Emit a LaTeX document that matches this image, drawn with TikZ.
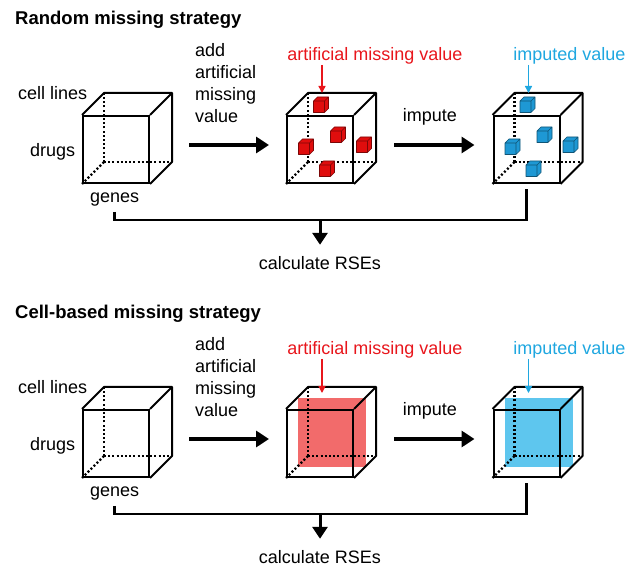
\documentclass[tikz,border=0pt]{standalone}
\usepackage{fontspec}
\setmainfont{Liberation Sans}
\usetikzlibrary{arrows.meta,calc,backgrounds}
\definecolor{misred}{HTML}{E8161C}
\definecolor{impblue}{HTML}{1FA7E0}
\definecolor{cubered}{HTML}{E00D0D}
\definecolor{cubeblue}{HTML}{1E98D4}
\definecolor{slicered}{HTML}{F26B6B}
\definecolor{sliceblue}{HTML}{5EC6EE}
\tikzset{
  lbl/.style={font=\fontsize{18}{22}\selectfont, inner sep=0pt, anchor=base west},
  ttl/.style={font=\fontsize{18.5}{22}\selectfont\bfseries, inner sep=0pt, anchor=base west},
  face/.style={draw=black, line width=2pt, minimum width=66pt, minimum height=67pt, inner sep=0pt},
  edge/.style={line width=2pt, line join=round},
  hid/.style={line width=2.3pt, dash pattern=on 2pt off 2.2pt},
  bigarr/.style={-{Triangle[length=13pt,width=16pt]}, line width=4.5pt},
  link/.style={line width=2.5pt},
  downarr/.style={-{Triangle[length=12pt,width=15pt]}, line width=3pt},
  tagarr/.style={-{Triangle[length=7pt,width=7pt]}, line width=1.4pt},
  pics/minicube/.style={code={
    \filldraw[fill=#1, draw=#1!55!black, line width=0.7pt, line join=round]
      (-7.5,-4) rectangle (3.5,7.5)
      (-7.5,-4) -- (-3.5,-8) -- (7.5,-8) -- (3.5,-4)
      (3.5,-4) -- (7.5,-8) -- (7.5,3.5) -- (3.5,7.5);
  }},
}
\begin{document}
\begin{tikzpicture}[x=1pt,y=-1pt]
  \useasboundingbox (0,0) rectangle (641,569);
  \foreach \p/\d/\name in {a/0/Random missing strategy, b/294/Cell-based missing strategy} {
    \node[ttl] (ttl-\p) at (15,25+\d) {\name};
    \node[lbl] (cl-\p) at (18,100+\d) {cell lines};
    \node[lbl] (dr-\p) at (30,157+\d) {drugs};
    \node[lbl] (gn-\p) at (90,203+\d) {genes};
    \node[lbl, align=left] (add-\p) at (195,123+\d) {add\\artificial\\missing\\value};
    \node[lbl, anchor=base, text=misred] (mv-\p) at (375,61+\d) {artificial missing value};
    \node[lbl, anchor=base, text=impblue] (iv-\p) at (569.5,61+\d) {imputed value};
    \node[lbl, anchor=base] (imp-\p) at (430,122+\d) {impute};
    \node[lbl, anchor=base] (rse-\p) at (320,270+\d) {calculate RSEs};
    % three cubes, front faces
    \node[face] (\p1) at (116,149.5+\d) {};
    \node[face] (\p2) at (320,149.5+\d) {};
    \node[face] (\p3) at (526.5,149.5+\d) {};
    \foreach \c in {\p1,\p2,\p3} {
      \draw[edge] (\c.north west) -- ++(22,-22) -- ($(\c.north east)+(22,-22)$) -- ($(\c.south east)+(22,-22)$) -- (\c.south east);
      \draw[edge] (\c.north east) -- ++(22,-22);
      \draw[hid] ($(\c.south west)+(22,-22)$) -- ($(\c.north west)+(22,-22)$);
      \draw[hid] ($(\c.south west)+(22,-22)$) -- ($(\c.south east)+(22,-22)$);
      \draw[hid] ($(\c.south west)+(22,-22)$) -- (\c.south west);
    }
    \draw[bigarr] ($(\p1.east)+(39,-4.5)$) -- ($(\p2.west)+(-17,-4.5)$);
    \draw[bigarr] ($(\p2.east)+(40,-4.5)$) -- ($(\p3.west)+(-18,-4.5)$);
    \coordinate (j-\p) at (320,220+\d);
    \draw[link] ([yshift=-5pt]gn-\p.south) |- (j-\p) -| ([yshift=-5pt]\p3.south);
    \draw[downarr] (j-\p) -- ([yshift=12pt]rse-\p.north);
  }
  % random: single cells
  \foreach \dx/\dy in {1/-44.5,18/-14.5,-14/-2.5,44/-4.5,7/19.5} {
    \pic at ($(a2)+(\dx,\dy)$) {minicube=cubered};
    \pic at ($(a3)+(\dx,\dy)$) {minicube=cubeblue};
  }
  \draw[tagarr, misred] ([xshift=2pt]mv-a.south -| a2.north) -- ($(a2.north)+(2,-22)$);
  \draw[tagarr, impblue] ([xshift=2pt]iv-a.south -| a3.north) -- ($(a3.north)+(2,-22)$);
  % cell-based: whole slice
  \begin{scope}[on background layer]
    \fill[slicered] ($(b2.north west)+(12,-11)$) rectangle ($(b2.south east)+(12,-11)$);
    \fill[sliceblue] ($(b3.north west)+(12,-11)$) rectangle ($(b3.south east)+(12,-11)$);
  \end{scope}
  \draw[tagarr, misred] ([xshift=2pt]mv-b.south -| b2.north) -- ($(b2.north)+(2,-16)$);
  \draw[tagarr, impblue] ([xshift=2pt]iv-b.south -| b3.north) -- ($(b3.north)+(2,-16)$);
\end{tikzpicture}
\end{document}
